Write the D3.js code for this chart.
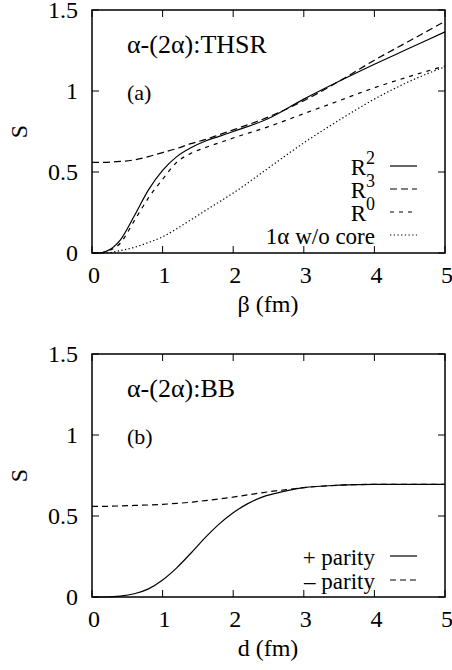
<!DOCTYPE html>
<html>
<head>
<meta charset="utf-8">
<script src="https://cdn.jsdelivr.net/npm/d3@7"></script>
</head>
<body style="margin:0">
<svg id="chart" width="452" height="670"></svg>
<script>
// panel (a): THSR
const betaX = [0, 0.1, 0.2, 0.4, 0.6, 0.8, 1.0, 1.2, 1.4, 1.6, 1.8, 2.0, 2.5, 3.0, 3.5, 4.0, 4.5, 5.0];
const sR2 = [0, 0, 0.01, 0.08, 0.23, 0.39, 0.51, 0.595, 0.65, 0.69, 0.72, 0.75, 0.83, 0.95, 1.06, 1.165, 1.265, 1.365];
const sR3 = [0.56, 0.56, 0.56, 0.565, 0.575, 0.595, 0.62, 0.645, 0.675, 0.70, 0.73, 0.76, 0.84, 0.94, 1.06, 1.19, 1.31, 1.43];
const sR0 = [0, 0, 0.01, 0.06, 0.2, 0.34, 0.455, 0.56, 0.615, 0.65, 0.68, 0.71, 0.78, 0.86, 0.94, 1.02, 1.09, 1.155];
const s1a = [0, 0, 0, 0.015, 0.035, 0.065, 0.1, 0.15, 0.205, 0.26, 0.315, 0.37, 0.525, 0.68, 0.82, 0.95, 1.06, 1.15];

// panel (b): BB
const dX = [0, 0.2, 0.4, 0.6, 0.8, 1.0, 1.2, 1.4, 1.6, 1.8, 2.0, 2.2, 2.4, 2.6, 2.8, 3.0, 3.5, 4.0, 5.0];
const sPlus = [0, 0, 0.005, 0.02, 0.05, 0.105, 0.18, 0.27, 0.365, 0.45, 0.52, 0.575, 0.615, 0.64, 0.66, 0.675, 0.69, 0.695, 0.695];
const sMinus = [0.56, 0.56, 0.562, 0.565, 0.568, 0.572, 0.578, 0.585, 0.595, 0.605, 0.617, 0.63, 0.643, 0.655, 0.665, 0.675, 0.69, 0.695, 0.695];

const xTicks = [0, 1, 2, 3, 4, 5];
const yTicks = [0, 0.5, 1, 1.5];

const svg = d3.select('#chart');
const left = 92, right = 445, plotH = 243;

// serif text helper
function txt(sel, size) {
  return sel.append('text')
    .attr('font-family', 'Liberation Serif')
    .attr('font-size', size)
    .style('font-family', "'Liberation Serif', 'Times New Roman', Tinos")
    .style('font-size', size + 'px')
    .attr('fill', '#000');
}

function drawPanel(top, title, tag, xLabel, series, legendTop, legendStep) {
  const x = d3.scaleLinear().domain([0, 5]).range([left, right]);
  const y = d3.scaleLinear().domain([0, 1.5]).range([top + plotH, top]);
  const g = svg.append('g');

  const tickLen = 7;
  // ticks (inward, mirrored)
  g.selectAll('.xt').data(xTicks).enter().append('path')
    .attr('d', d => `M${x(d)},${top + plotH}v${-tickLen}M${x(d)},${top}v${tickLen}`)
    .attr('stroke', '#000').attr('stroke-width', 1);
  g.selectAll('.yt').data(yTicks).enter().append('path')
    .attr('d', d => `M${left},${y(d)}h${tickLen}M${right},${y(d)}h${-tickLen}`)
    .attr('stroke', '#000').attr('stroke-width', 1);

  xTicks.forEach(d => {
    txt(g, 24).attr('x', x(d) + 2).attr('y', top + plotH + 30)
      .attr('text-anchor', 'middle').text(String(d));
  });
  yTicks.forEach(d => {
    txt(g, 24).attr('x', 78).attr('y', y(d) + 8)
      .attr('text-anchor', 'end').text(String(d));
  });

  txt(g, 24).attr('transform', `translate(27,${top + plotH / 2}) rotate(-90)`)
    .attr('text-anchor', 'middle').text('S');
  txt(g, 24).attr('x', 268).attr('y', top + plotH + 59)
    .attr('text-anchor', 'middle').text(xLabel);

  txt(g, 26).attr('x', 127).attr('y', top + 43).text(title);
  txt(g, 22).attr('x', 127).attr('y', top + 90).text(tag);

  const line = d3.line().x(d => x(d[0])).y(d => y(d[1])).curve(d3.curveMonotoneX);
  series.forEach((s, i) => {
    g.append('path')
      .datum(s.xs.map((v, j) => [v, s.ys[j]]))
      .attr('d', line)
      .attr('fill', 'none').attr('stroke', '#000').attr('stroke-width', 1.2)
      .attr('stroke-dasharray', s.dash);

    const ly = legendTop + i * legendStep;
    g.append('line')
      .attr('x1', 390).attr('x2', 417).attr('y1', ly).attr('y2', ly)
      .attr('stroke', '#000').attr('stroke-width', 1.2)
      .attr('stroke-dasharray', s.dash);
    const t = txt(g, 23).attr('x', 375).attr('y', ly + 9)
      .attr('text-anchor', 'end');
    t.append('tspan').text(s.label);
    if (s.sup) {
      t.append('tspan').style('font-size', '18px').attr('dy', -11).text(s.sup);
    }
  });

  g.append('rect')
    .attr('x', left).attr('y', top).attr('width', right - left).attr('height', plotH)
    .attr('fill', 'none').attr('stroke', '#000').attr('stroke-width', 1.5);
}

drawPanel(10, 'α-(2α):THSR', '(a)', 'β (fm)', [
  { xs: betaX, ys: sR2, label: 'R', sup: '2', dash: null },
  { xs: betaX, ys: sR3, label: 'R', sup: '3', dash: '7,4' },
  { xs: betaX, ys: sR0, label: 'R', sup: '0', dash: '4,5' },
  { xs: betaX, ys: s1a, label: '1α w/o core', sup: null, dash: '1.3,2.4' }
], 166, 23);

drawPanel(354, 'α-(2α):BB', '(b)', 'd (fm)', [
  { xs: dX, ys: sPlus, label: '+ parity', sup: null, dash: null },
  { xs: dX, ys: sMinus, label: '– parity', sup: null, dash: '6,4' }
], 556, 24);
</script>
</body>
</html>
